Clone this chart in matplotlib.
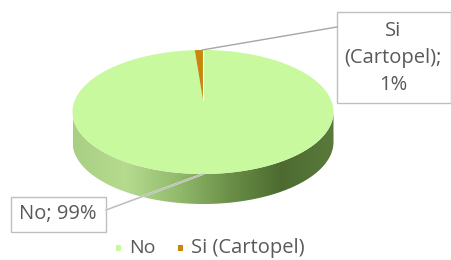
import numpy as np
import matplotlib.pyplot as plt
from matplotlib.patches import Polygon, Rectangle

labels = ['No', 'Si (Cartopel)']
values = [99, 1]
colors = ['#c9f99f', '#c8860a']
label_texts = ['No; 99%', 'Si\n(Cartopel);\n1%']

# pie geometry in pixels
cx, cy = 203, 112
a, b = 130.5, 62
depth = 30

fig = plt.figure(figsize=(4.51, 2.60), dpi=100)
ax = fig.add_axes([0, 0, 1, 1])
ax.set_xlim(0, 451)
ax.set_ylim(260, 0)
ax.axis('off')

def pt(theta):
    return cx + a * np.cos(theta), cy - b * np.sin(theta)

# side wall (front half)
th = np.linspace(np.pi, 2 * np.pi, 200)
top_x, top_y = pt(th)
side = np.concatenate([np.column_stack([top_x, top_y]),
                       np.column_stack([top_x[::-1], top_y[::-1] + depth])])
side_patch = Polygon(side, closed=True, facecolor='none', edgecolor='none')
ax.add_patch(side_patch)
grad = np.linspace(0, 1, 256)
cmap = plt.matplotlib.colors.LinearSegmentedColormap.from_list(
    'side', ['#a9cf84', '#b6db8f', '#93bb6c', '#6b8f48', '#4d6b31', '#5a7a3b'])
im = ax.imshow(grad[None, :], cmap=cmap, aspect='auto',
               extent=[cx - a, cx + a, cy + b + depth, cy - 5], zorder=1)
im.set_clip_path(side_patch)

# top slices, clockwise from 12 o'clock
total = sum(values)
start = np.pi / 2
for v, c in zip(values, colors):
    sweep = 2 * np.pi * v / total
    ts = np.linspace(start, start - sweep, 300)
    xs, ys = pt(ts)
    poly = np.vstack([[cx, cy - 12], np.column_stack([xs, ys])])
    ax.add_patch(Polygon(poly, closed=True, facecolor=c, edgecolor='none',
                         zorder=2))
    start -= sweep
ax.plot([cx, cx], [cy - b, cy - 12], color='white', lw=0.8, zorder=2)

font = dict(family='Open Sans', color='#595959')

# data labels with leader lines
box_kw = dict(facecolor='white', edgecolor='#bfbfbf', linewidth=1, zorder=3)
ax.add_patch(Rectangle((337, 12), 114, 91, **box_kw))
ax.text(393, 58, label_texts[1], ha='center', va='center', fontsize=14.5,
        linespacing=1.45, zorder=4, **font)
ax.plot([202, 337], [50, 27], color='#a6a6a6', lw=1, zorder=3)

ax.add_patch(Rectangle((11, 197), 95, 35, **box_kw))
ax.text(58, 214, label_texts[0], ha='center', va='center', fontsize=14.5,
        zorder=4, **font)
ax.plot([106, 203], [210, 174], color='#e0e0e0', lw=1.5, zorder=3)
ax.plot([106, 203], [210, 174], color='#b0b0b0', lw=0.6, zorder=3)

# legend
ax.add_patch(Rectangle((116, 245), 5, 6, facecolor=colors[0], edgecolor='none'))
ax.text(129, 248, labels[0], ha='left', va='center', fontsize=14, **font)
ax.add_patch(Rectangle((178, 245), 5, 6, facecolor=colors[1], edgecolor='none'))
ax.text(191, 248, labels[1], ha='left', va='center', fontsize=14.5, **font)

fig.savefig('out.png', dpi=100)
